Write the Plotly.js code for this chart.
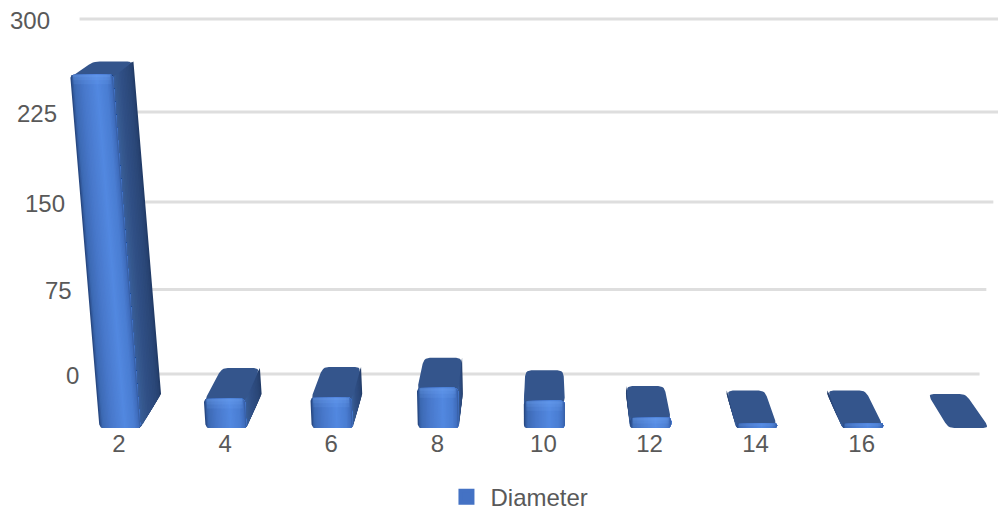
<!DOCTYPE html>
<html>
<head>
<meta charset="utf-8">
<script src="https://cdn.plot.ly/plotly-3.0.1.min.js"></script>
<style>html,body{margin:0;padding:0;background:#fff}#chart{width:998px;height:510px}</style>
</head>
<body>
<div id="chart"></div>
<script>
// Bar categories and heights of the Diameter series
const categories = [2, 4, 6, 8, 10, 12, 14, 16, 18];
const diameterValues = [283, 25, 26, 34, 23, 9, 4, 4, 0];
const xTickValues = [2, 4, 6, 8, 10, 12, 14, 16];
const yTickValues = [0, 75, 150, 225, 300];
const seriesName = 'Diameter';

const FONT = '"Liberation Sans", Arial, sans-serif';
const TEXT_COLOR = '#595959';
const GRID_COLOR = '#dedede';
const TOP_COLOR = '#34558c';

// Horizontal shading across the front and side of a box
const FRONT_SHADE = [[0,'#1f3a6b'],[0.03,'#2f5596'],[0.09,'#3d6ab4'],[0.3,'#4878cb'],[0.62,'#5288e0'],[0.85,'#4a7dd2'],[0.96,'#3f6dbc'],[1,'#33599b']];
const SIDE_SHADE = [[0,'#38609f'],[0.15,'#36598f'],[0.4,'#304f85'],[0.75,'#2b4879'],[0.93,'#26416f'],[1,'#1e3760']];

// Plot scales: the axes span the full width and run down just past the floor line
const PLOT_BOTTOM = 430, ZERO_ROW = 374, UNIT = 1.11;
const CAT_PX = 53.05, CAT_ORIGIN = 119, FLOOR_ROW = 428, VANISH_COL = 544;
const toCat = col => 2 + (col - CAT_ORIGIN) / CAT_PX;
const toUnit = row => (ZERO_ROW - row) / UNIT;
const colOf = cat => CAT_ORIGIN + (cat - 2) * CAT_PX;

// Foreshortening of the value scale on the receding wall
const wallValue = v => v + 0.00022 * v * v;
const wallRow = v => ZERO_ROW - UNIT * wallValue(v);
const frontHeight = v => 1.06 * UNIT * wallValue(v);

// Perspective projection of a box point: u across, h up, d into the depth
function project(cat, u, h, d) {
  const xc = colOf(cat) + 1;
  const width = 41 + 0.005 * h - 3 * d;
  const lean = (xc - VANISH_COL) * 0.00019 * h;
  const recede = 34 - 0.054 * h - Math.min(2, h / 5);
  return [xc + (u - 0.5) * width + lean + d * 0.052 * (VANISH_COL - xc),
          FLOOR_ROW - h - d * recede];
}

function mixColor(stops, t) {
  let i = 0;
  while (i < stops.length - 2 && t > stops[i + 1][0]) i++;
  const [t0, c0] = stops[i], [t1, c1] = stops[i + 1];
  const f = Math.max(0, Math.min(1, (t - t0) / (t1 - t0)));
  const ch = (c, k) => parseInt(c.substr(1 + 2 * k, 2), 16);
  const mix = [0, 1, 2].map(k => Math.round(ch(c0, k) + (ch(c1, k) - ch(c0, k)) * f));
  return 'rgb(' + mix.join(',') + ')';
}

// Replace polygon corners with short curves
function rounded(points, r) {
  const out = [];
  const n = points.length;
  points.forEach((p, i) => {
    const a = points[(i + n - 1) % n], b = points[(i + 1) % n];
    const la = Math.hypot(a[0] - p[0], a[1] - p[1]), lb = Math.hypot(b[0] - p[0], b[1] - p[1]);
    const ra = Math.min(r, la / 2) / la, rb = Math.min(r, lb / 2) / lb;
    const s = [p[0] + (a[0] - p[0]) * ra, p[1] + (a[1] - p[1]) * ra];
    const e = [p[0] + (b[0] - p[0]) * rb, p[1] + (b[1] - p[1]) * rb];
    for (let k = 0; k <= 5; k++) {
      const t = k / 5, q = 1 - t;
      out.push([q * q * s[0] + 2 * q * t * p[0] + t * t * e[0], q * q * s[1] + 2 * q * t * p[1] + t * t * e[1]]);
    }
  });
  return out;
}

// A filled trace holding one polygon per box
function polygonTrace(polygons, color) {
  const x = [], y = [];
  polygons.forEach(poly => {
    poly.forEach(p => { x.push(toCat(p[0])); y.push(toUnit(p[1])); });
    x.push(toCat(poly[0][0])); y.push(toUnit(poly[0][1]));
    x.push(null); y.push(null);
  });
  return { type: 'scatter', mode: 'lines', x, y, fill: 'toself', fillcolor: color,
           line: { width: 0, color: color }, hoverinfo: 'skip', showlegend: false };
}

const bars = categories.map((cat, i) => ({ cat, h: frontHeight(diameterValues[i]) }));
const traces = [];

// Gridlines on the back wall narrow slightly towards the floor
const gridX = [], gridY = [];
yTickValues.forEach(t => {
  const row = wallRow(t);
  gridX.push(toCat(48.5 + 0.0835 * row + 29.5), toCat(1009.5 - 0.08 * row), null);
  gridY.push(wallValue(t), wallValue(t), null);
});
traces.push({ type: 'scatter', mode: 'lines', x: gridX, y: gridY,
              line: { color: GRID_COLOR, width: 3 }, hoverinfo: 'skip', showlegend: false });

// Visible side of each box, painted back to front in narrowing strips
const SIDE_STRIPS = 14;
for (let s = 0; s < SIDE_STRIPS; s++) {
  const k = SIDE_STRIPS - 1 - s;
  const d1 = (k + 1) / SIDE_STRIPS;
  const polys = [];
  bars.forEach(b => {
    if (b.h <= 0) return;
    const edge = colOf(b.cat) < VANISH_COL - 1 ? 1 : 0;
    const inner = edge === 1 ? 0.97 : 0.03;
    polys.push([project(b.cat, inner, 0, 0), project(b.cat, edge, 0, d1),
                project(b.cat, edge, b.h, d1), project(b.cat, inner, b.h, 0)]);
  });
  traces.push(polygonTrace(polys, mixColor(SIDE_SHADE, (k + 0.5) / SIDE_STRIPS)));
}

// Top face of each box; its front edge tucks under the front face
traces.push(polygonTrace(bars.map(b => rounded([
  project(b.cat, 0, Math.max(0, b.h - 3), 0), project(b.cat, 1, Math.max(0, b.h - 3), 0),
  project(b.cat, 1, b.h, 1), project(b.cat, 0, b.h, 1)], 6)), TOP_COLOR));

// Front face of each box, each strip running out to the right edge
const FRONT_STRIPS = 30, CORNER = 3.5, BAR_WIDTH = 41;
function cornerDrop(u, h) {
  const r = Math.min(CORNER, h / 2);
  const dist = Math.min(u, 1 - u) * BAR_WIDTH;
  if (dist >= r || r <= 0) return 0;
  return r - Math.sqrt(Math.max(0, r * r - (r - dist) * (r - dist)));
}
for (let s = 0; s < FRONT_STRIPS; s++) {
  const polys = [];
  bars.forEach(b => {
    if (b.h <= 0) return;
    const top = [], bottom = [];
    for (let j = s; j <= FRONT_STRIPS; j++) {
      const u = j / FRONT_STRIPS, drop = cornerDrop(u, b.h);
      bottom.push(project(b.cat, u, drop, 0));
      top.unshift(project(b.cat, u, b.h - drop, 0));
    }
    polys.push(bottom.concat(top));
  });
  traces.push(polygonTrace(polys, mixColor(FRONT_SHADE, (s + 0.5) / FRONT_STRIPS)));
}

// Soft light along the upper rim of the front face
[10, 6, 3].forEach(band => {
  const polys = [];
  bars.forEach(b => {
    if (b.h <= band) return;
    polys.push([project(b.cat, 0.06, b.h - band, 0), project(b.cat, 0.94, b.h - band, 0),
                project(b.cat, 0.94, b.h - 0.5, 0), project(b.cat, 0.06, b.h - 0.5, 0)]);
  });
  if (polys.length) traces.push(polygonTrace(polys, 'rgba(125,175,255,0.13)'));
});

// Legend entry for the series
traces.push({ type: 'bar', name: seriesName, x: [null], y: [null],
              marker: { color: '#4472c4', line: { color: '#4472c4', width: 4 } },
              showlegend: true, hoverinfo: 'skip' });

// Value labels step along the slanted edge of the wall
const annotations = yTickValues.map(t => {
  const row = wallRow(t);
  return { xref: 'x', yref: 'y', x: toCat(50 + 0.0835 * row), y: toUnit(row + 1.5),
           text: String(t), showarrow: false, xanchor: 'right', yanchor: 'middle',
           font: { family: FONT, size: 24, color: TEXT_COLOR } };
});

const layout = {
  width: 998, height: 510,
  margin: { l: 0, r: 0, t: 0, b: 510 - PLOT_BOTTOM, pad: 0 },
  paper_bgcolor: '#ffffff', plot_bgcolor: 'rgba(0,0,0,0)',
  showlegend: true,
  legend: { orientation: 'h', xref: 'container', yref: 'container', x: 0.519, xanchor: 'center',
            y: 0.025, yanchor: 'middle', itemwidth: 38,
            font: { family: FONT, size: 24, color: TEXT_COLOR }, bgcolor: 'rgba(0,0,0,0)' },
  xaxis: { range: [toCat(0), toCat(998)], tickvals: xTickValues, ticktext: xTickValues.map(String),
           showgrid: false, zeroline: false, showline: false, ticks: '', automargin: false,
           ticklabelstandoff: -3,
           tickfont: { family: FONT, size: 24, color: TEXT_COLOR } },
  yaxis: { range: [toUnit(PLOT_BOTTOM), toUnit(0)], showgrid: false, zeroline: false,
           showline: false, showticklabels: false, ticks: '', automargin: false },
  annotations
};

Plotly.newPlot('chart', traces, layout, { displayModeBar: false, responsive: false });
</script>
</body>
</html>
